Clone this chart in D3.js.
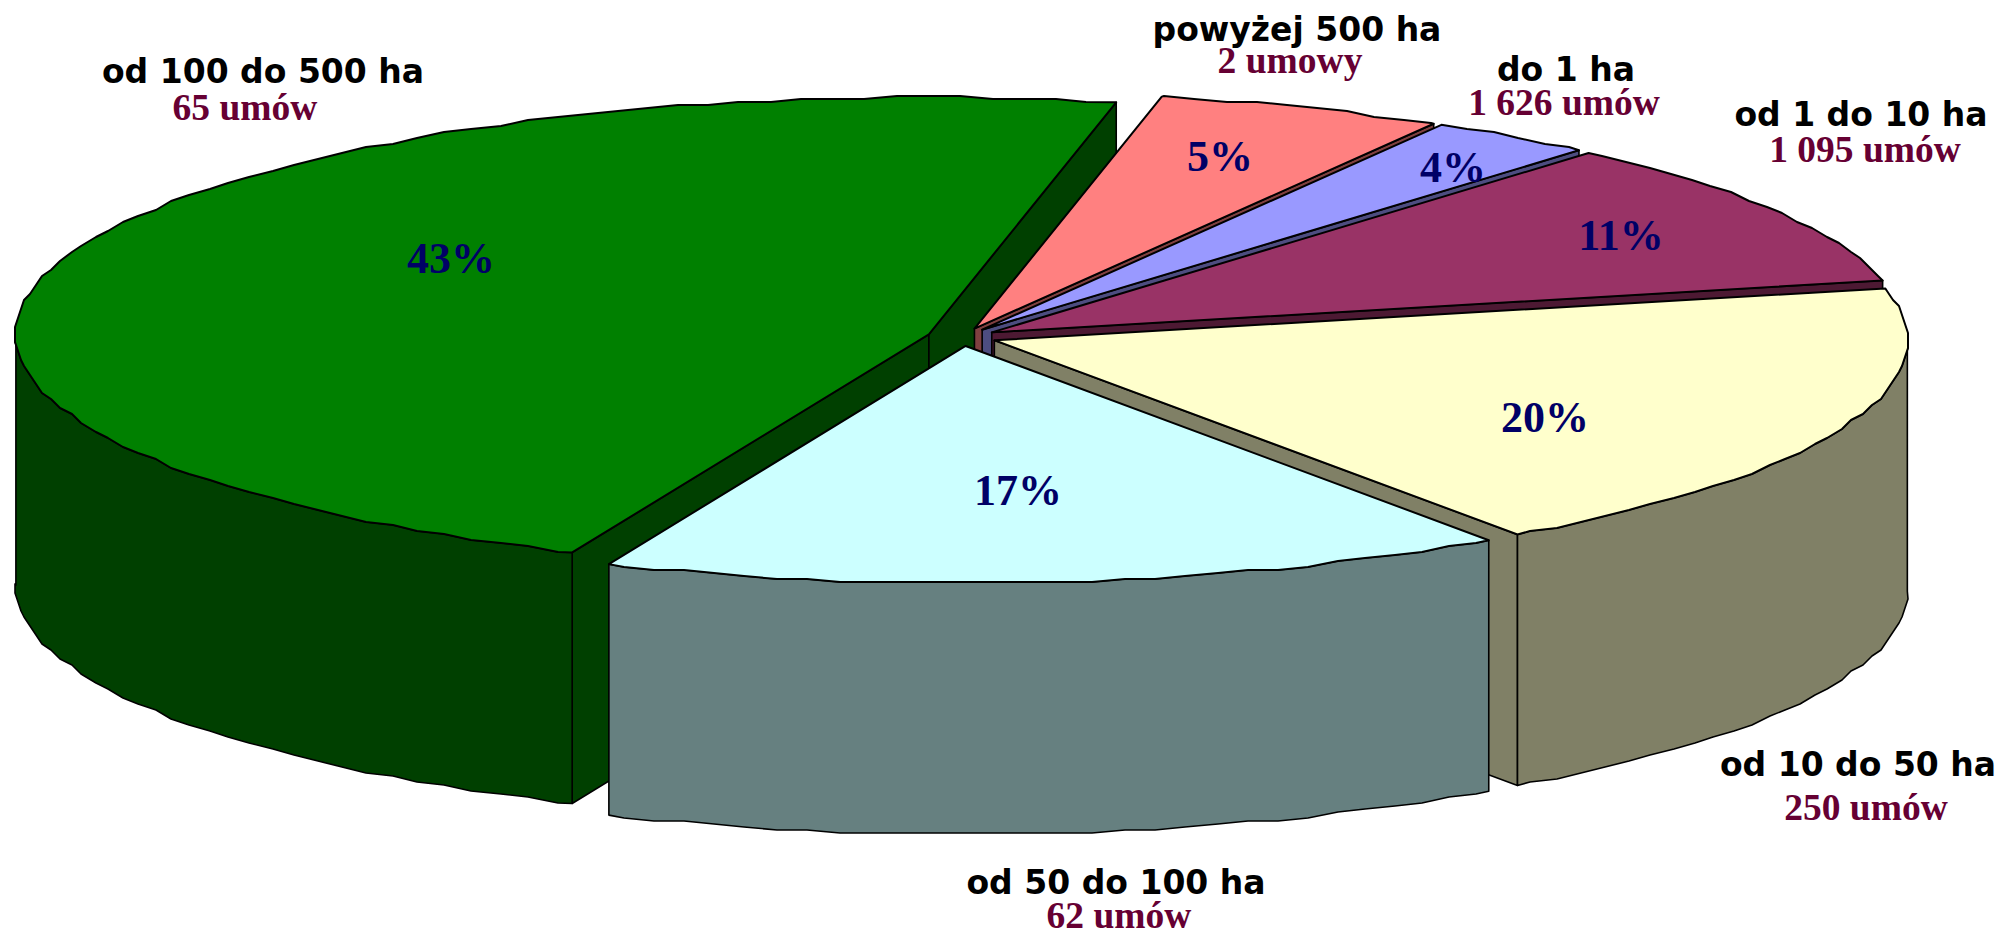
<!DOCTYPE html>
<html>
<head>
<meta charset="utf-8">
<script src="https://cdnjs.cloudflare.com/ajax/libs/d3/7.8.5/d3.min.js"></script>
<style>
  html, body { margin: 0; padding: 0; background: #fff; }
  svg { display: block; }
</style>
</head>
<body>
<div id="chart"></div>
<script>
// categories, going clockwise from the front edge of the big green slice
var categories = ["od 100 do 500 ha", "powyżej 500 ha", "do 1 ha", "od 1 do 10 ha", "od 10 do 50 ha", "od 50 do 100 ha"];
var contracts = ["65 umów", "2 umowy", "1 626 umów", "1 095 umów", "250 umów", "62 umów"];
var percentLabels = ["43%", "5%", "4%", "11%", "20%", "17%"];

// they differ a bit from the printed percentages, the picture is like that
var drawnShares = [46.9, 5.1, 2.95, 10.15, 18.8, 16.1];

var topColors = ["#008000", "#ff8080", "#9999ff", "#993366", "#ffffcc", "#ccffff"];
var wallColors = ["#004000", "#804040", "#4d4d80", "#4d1933", "#808066", "#668080"];

const width = 2000, height = 936;
const cx = 962, cy = 337, rx = 913, ry = 237, depth = 251;
const explode = 0.038;
const step = 2 * Math.PI / 180;
const grid = 3; // rim points snap to a coarse grid, gives the rough outline of the original

const svg = d3.select("#chart").append("svg")
  .attr("width", width)
  .attr("height", height);

const x = d3.scaleLinear().domain([-1, 1]).range([cx - rx, cx + rx]);
const y = d3.scaleLinear().domain([-1, 1]).range([cy + ry, cy - ry]);
const line = d3.line();

const start = 203 * Math.PI / 180;
const pie = d3.pie().sort(null).startAngle(start).endAngle(start + 2 * Math.PI);
const slices = pie(drawnShares);

// point on the disc, r = 1 is the rim. dz pushes it down to the bottom face
function pt(d, r, a, dz) {
  const mid = (d.startAngle + d.endAngle) / 2;
  const ux = explode * Math.sin(mid) + r * Math.sin(a);
  const uy = explode * Math.cos(mid) + r * Math.cos(a);
  return [x(ux), y(uy) + (dz || 0)];
}

function snap(p) {
  return [Math.round(p[0] / grid) * grid, Math.round(p[1] / grid) * grid];
}

// rim between a0 and a1 at one height, inner points snapped, the two corners exact
function rim(d, a0, a1, dz) {
  const out = [pt(d, 1, a0, dz)];
  let a = (Math.floor(a0 / step) + 1) * step;
  for (; a < a1; a += step) {
    const p = snap(pt(d, 1, a));
    out.push([p[0], p[1] + (dz || 0)]);
  }
  out.push(pt(d, 1, a1, dz));
  return out;
}

function topPath(d) {
  return line([pt(d, 0, 0)].concat(rim(d, d.startAngle, d.endAngle))) + "Z";
}

function sidePath(d, a) {
  return line([pt(d, 0, 0), pt(d, 1, a), pt(d, 1, a, depth), pt(d, 0, 0, depth)]) + "Z";
}

// outer wall exists only on the front half of the rim
function outerPaths(d) {
  const res = [];
  [[Math.PI / 2, 1.5 * Math.PI], [2.5 * Math.PI, 3.5 * Math.PI]].forEach(function(f) {
    const a0 = Math.max(d.startAngle, f[0]), a1 = Math.min(d.endAngle, f[1]);
    if (a1 <= a0) return;
    const upper = rim(d, a0, a1);
    const lower = rim(d, a0, a1, depth).reverse();
    res.push(line(upper.concat(lower)) + "Z");
  });
  return res;
}

// painter's order: array order already goes back to front here
slices.forEach(function(d, i) {
  const g = svg.append("g").attr("stroke", "#000").attr("stroke-linejoin", "round");

  // cut faces, only the ones turned to the viewer
  [[d.startAngle, d.startAngle - Math.PI / 2], [d.endAngle, d.endAngle + Math.PI / 2]].forEach(function(e) {
    if (Math.cos(e[1]) < 0) {
      g.append("path").attr("d", sidePath(d, e[0]))
        .attr("fill", wallColors[i]).attr("stroke-width", 1.6);
    }
  });

  outerPaths(d).forEach(function(p) {
    g.append("path").attr("d", p).attr("fill", wallColors[i]).attr("stroke-width", 1.6);
  });

  g.append("path").attr("d", topPath(d))
    .attr("fill", topColors[i]).attr("stroke-width", 2);
});

// text anchors: [category x, category y, contracts x, contracts y, percent x, percent y]
const textSpots = [
  [263, 83, 245, 120, 451, 273],
  [1297, 41, 1290, 73, 1220, 171],
  [1566, 81, 1564, 115, 1453, 182],
  [1861, 126, 1865, 162, 1621, 250],
  [1858, 776, 1866, 820, 1545, 432],
  [1116, 894, 1119, 928, 1018, 505]
];

svg.append("g").selectAll("text").data(categories).join("text")
  .attr("x", (d, i) => textSpots[i][0])
  .attr("y", (d, i) => textSpots[i][1])
  .attr("text-anchor", "middle")
  .attr("font-family", "'DejaVu Sans'")
  .attr("font-weight", "bold")
  .attr("font-size", 33)
  .attr("fill", "#000")
  .text(d => d);

svg.append("g").selectAll("text").data(contracts).join("text")
  .attr("x", (d, i) => textSpots[i][2])
  .attr("y", (d, i) => textSpots[i][3])
  .attr("text-anchor", "middle")
  .attr("font-family", "'Liberation Serif'")
  .attr("font-weight", "bold")
  .attr("font-size", 37.5)
  .attr("fill", "#660033")
  .text(d => d);

svg.append("g").selectAll("text").data(percentLabels).join("text")
  .attr("x", (d, i) => textSpots[i][4])
  .attr("y", (d, i) => textSpots[i][5])
  .attr("text-anchor", "middle")
  .attr("font-family", "'Liberation Serif'")
  .attr("font-weight", "bold")
  .attr("font-size", 44)
  .attr("fill", "#000066")
  .text(d => d);
</script>
</body>
</html>
